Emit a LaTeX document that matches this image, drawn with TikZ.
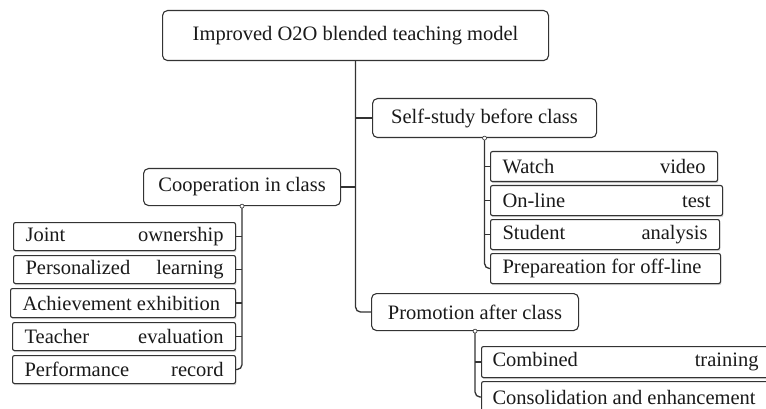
\documentclass[tikz,border=0pt]{standalone}
\usepackage{fontspec}
\setmainfont{Liberation Serif}
\usetikzlibrary{shadows}
\definecolor{ln}{HTML}{333333}
\definecolor{tx}{HTML}{1A1A1A}
\newcommand\jt[3]{\hbox to #1pt{#2\hfill #3}}
\begin{document}
\begin{tikzpicture}[x=1pt,y=-1pt,
  base/.style={draw=ln, line width=1.1pt, fill=white, text=tx, anchor=north west,
    font=\fontsize{20.5}{24}\selectfont, inner ysep=0pt},
  topbox/.style={base, rounded corners=5pt, inner xsep=0pt, align=center},
  leaf/.style={base, rounded corners=2pt, inner xsep=12pt,
    drop shadow={shadow xshift=0.8pt, shadow yshift=-1.6pt, opacity=0.35}},
  conn/.style={draw=ln, line width=1.3pt, rounded corners=5pt},
  dot/.style={circle, draw=ln, fill=white, line width=0.6pt, inner sep=0pt, minimum size=4pt}]
\useasboundingbox (0,0) rectangle (766,409);

% top-level boxes
\node[topbox, minimum width=386pt, minimum height=50pt] (root) at (162,10) {Improved O2O blended teaching model};
\node[topbox, minimum width=224pt, minimum height=39pt] (ss) at (372,98) {Self-study before class};
\node[topbox, minimum width=197pt, minimum height=37pt] (coop) at (143,168) {Cooperation in class};
\node[topbox, minimum width=207pt, minimum height=37pt] (promo) at (371,293) {Promotion after class};

% self-study leaves
\node[leaf, minimum height=30pt] (watch) at (490,151) {\jt{203}{Watch}{video}};
\node[leaf, minimum height=30pt] (online) at (490,185) {\jt{208}{On-line}{test}};
\node[leaf, minimum height=30pt] (student) at (490,219) {\jt{205}{Student}{analysis}};
\node[leaf, minimum height=30pt] (prep) at (490,253) {\jt{206}{Prepareation for off-line}{}};

% cooperation leaves
\node[leaf, minimum height=28pt] (joint) at (13,222) {\jt{198}{Joint}{ownership}};
\node[leaf, minimum height=28pt] (pers) at (13,255) {\jt{198}{Personalized}{learning}};
\node[leaf, minimum height=29pt] (ach) at (10,288) {\jt{201}{Achievement exhibition}{}};
\node[leaf, minimum height=28pt] (teach) at (12,322) {\jt{199}{Teacher}{evaluation}};
\node[leaf, minimum height=28pt] (perf) at (12,355) {\jt{199}{Performance}{record}};

% promotion leaves
\node[leaf, minimum height=31pt, inner xsep=11pt] (comb) at (481,346) {\jt{266}{Combined}{training}};
\node[leaf, minimum height=31pt, inner xsep=11pt] (cons) at (481,381) {\jt{266}{Consolidation and enhancement}{}};

% trunk
\draw[conn] (root.south) |- (promo.west);
\draw[conn] (root.south |- ss.west) -- (ss.west);
\draw[conn] (root.south |- coop.east) -- (coop.east);

% self-study branch
\draw[conn] (ss.south) |- (prep.west);
\draw[conn] (ss.south |- watch.west) -- (watch.west);
\draw[conn] (ss.south |- online.west) -- (online.west);
\draw[conn] (ss.south |- student.west) -- (student.west);

% cooperation branch
\draw[conn] (coop.south) |- (perf.east);
\draw[conn] (coop.south |- joint.east) -- (joint.east);
\draw[conn] (coop.south |- pers.east) -- (pers.east);
\draw[conn] (coop.south |- ach.east) -- (ach.east);
\draw[conn] (coop.south |- teach.east) -- (teach.east);

% promotion branch
\draw[conn] (promo.south) |- (cons.west);
\draw[conn] (promo.south |- comb.west) -- (comb.west);

% small circles at branch origins
\node[dot] (d1) at (ss.south) {};
\node[dot] (d2) at (coop.south) {};
\node[dot] (d3) at (promo.south) {};
\end{tikzpicture}
\end{document}
